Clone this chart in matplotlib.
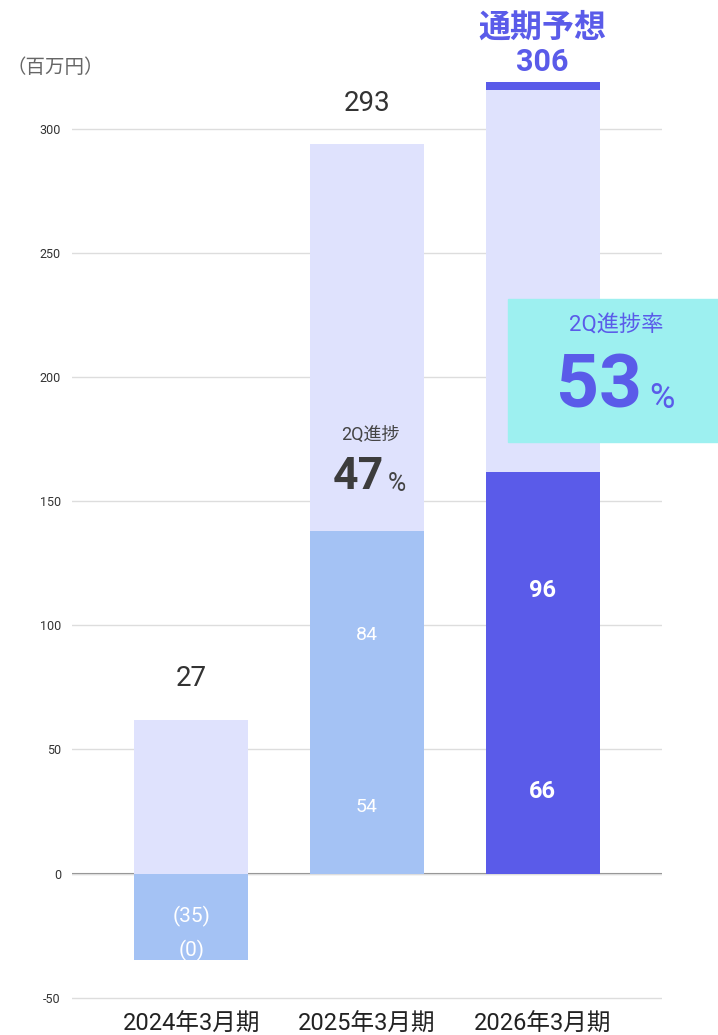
import matplotlib
matplotlib.use('Agg')
import matplotlib.pyplot as plt
from matplotlib.patches import Rectangle

plt.rcParams['font.family'] = ['Roboto', 'Noto Sans CJK JP', 'DejaVu Sans']

# data (百万円)
categories = ['2024年3月期', '2025年3月期', '2026年3月期']
q1 = [-35, 54, 66]           # 1Q
q2 = [0, 84, 96]             # 2Q
h2 = [62, 156, 154]          # 下期 (drawn light segment)
cap = [0, 0, 3]              # forecast cap
q1_labels = ['(35)', '54', '66']
q2_labels = ['(0)', '84', '96']
total_labels = ['27', '293']
forecast_label = '306'
progress_25 = '47'
progress_26 = '53'
yticks = [-50, 0, 50, 100, 150, 200, 250, 300]

C_LIGHT = '#dfe2fd'
C_BLUE = '#a4c2f4'
C_PURPLE = '#5a5be9'
C_CYAN = '#9df0f0'

fig = plt.figure(figsize=(7.18, 10.35), dpi=100)
ax = fig.add_axes([72 / 718, 1 - 1000 / 1035, (662 - 72) / 718, (1000 - 55) / 1035])

x = list(range(len(categories)))
w = 0.65
lower_colors = [C_BLUE, C_BLUE, C_PURPLE]

for i in x:
    # first half: 1Q + 2Q
    ax.bar(i, q1[i], w, color=lower_colors[i], zorder=2)
    ax.bar(i, q2[i], w, bottom=q1[i], color=lower_colors[i], zorder=2)
    base = max(q1[i] + q2[i], 0)
    ax.bar(i, h2[i], w, bottom=base, color=C_LIGHT, zorder=2)
    if cap[i]:
        ax.bar(i, cap[i], w, bottom=base + h2[i], color=C_PURPLE, zorder=2)

# segment labels
for i in x:
    bold = 'bold' if i == 2 else 'normal'
    fs = 17 if i == 2 else 14
    if q1[i] < 0:
        ax.text(i, q1[i] / 2, q1_labels[i], ha='center', va='center', color='white', fontsize=15, zorder=3)
        ax.text(i, q1[i] + 4, q2_labels[i], ha='center', va='center', color='white', fontsize=15, zorder=3)
    else:
        ax.text(i, q1[i] / 2, q1_labels[i], ha='center', va='center', color='white', fontsize=fs, fontweight=bold, zorder=3)
        ax.text(i, q1[i] + q2[i] / 2, q2_labels[i], ha='center', va='center', color='white', fontsize=fs, fontweight=bold, zorder=3)

# totals
for i, lab in enumerate(total_labels):
    top = max(q1[i] + q2[i], 0) + h2[i]
    ax.annotate(lab, (i, top), xytext=(0, 20), textcoords='offset points',
                ha='center', va='bottom', fontsize=20, color='#333333')

ax.text(2, 341, '通期予想', ha='center', va='center', fontsize=23, fontweight='bold',
        color=C_PURPLE, clip_on=False)
ax.text(2, 327, forecast_label, ha='center', va='center', fontsize=22, fontweight='bold',
        color=C_PURPLE, clip_on=False)

# 2025 progress
ax.text(1.02, 177, '2Q進捗', ha='center', va='center', fontsize=13, color='#444444', zorder=3)
ax.text(0.95, 160, progress_25, ha='center', va='center', fontsize=32, fontweight='bold', color='#3c3c3c', zorder=3)
ax.text(1.17, 157, '%', ha='center', va='center', fontsize=18, color='#444444', zorder=3)

# 2026 progress box (figure coords)
fig.patches.append(Rectangle((508 / 718, 1 - 442 / 1035), 210 / 718, 143 / 1035,
                             transform=fig.transFigure, color=C_CYAN, zorder=5))
fig.text(616 / 718, 1 - 326 / 1035, '2Q進捗率', ha='center', va='center', fontsize=16, color=C_PURPLE, zorder=6)
fig.text(599 / 718, 1 - 387 / 1035, progress_26, ha='center', va='center', fontsize=54, fontweight='bold', color=C_PURPLE, zorder=6)
fig.text(662 / 718, 1 - 398 / 1035, '%', ha='center', va='center', fontsize=25, color=C_PURPLE, zorder=6)

fig.text(6 / 718, 1 - 68 / 1035, '（百万円）', ha='left', va='center', fontsize=14, color='#666666')

ax.set_xlim(-0.68, 2.68)
ax.set_ylim(-51, 330)
ax.set_yticks(yticks)
ax.set_yticklabels([str(t) for t in yticks], fontsize=9, color='#333333')
ax.set_xticks(x)
ax.set_xticklabels(categories, fontsize=17, color='#222222')
ax.tick_params(length=0, axis='y', pad=8)
ax.tick_params(length=0, axis='x', pad=9)
ax.grid(axis='y', color='#dddddd', lw=1, zorder=0)
ax.axhline(0, color='#888888', lw=1.5, zorder=1)
for s in ax.spines.values():
    s.set_visible(False)

fig.savefig('out.png', dpi=100)
